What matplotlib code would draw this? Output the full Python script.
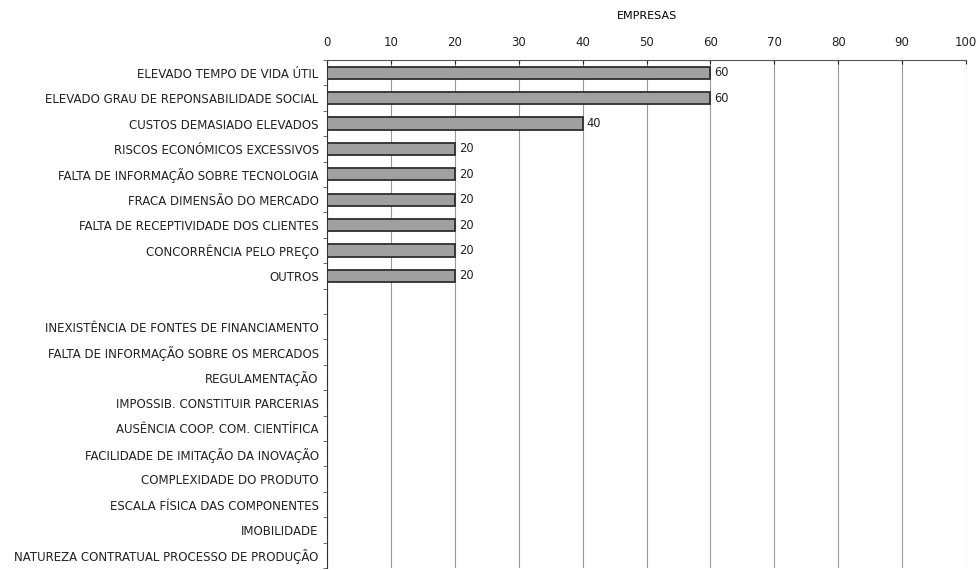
import numpy as np
import matplotlib.pyplot as plt

# obstáculos à inovação (empresas, %)
categories = [
    "ELEVADO TEMPO DE VIDA ÚTIL",
    "ELEVADO GRAU DE REPONSABILIDADE SOCIAL",
    "CUSTOS DEMASIADO ELEVADOS",
    "RISCOS ECONÓMICOS EXCESSIVOS",
    "FALTA DE INFORMAÇÃO SOBRE TECNOLOGIA",
    "FRACA DIMENSÃO DO MERCADO",
    "FALTA DE RECEPTIVIDADE DOS CLIENTES",
    "CONCORRÊNCIA PELO PREÇO",
    "OUTROS",
    "",
    "INEXISTÊNCIA DE FONTES DE FINANCIAMENTO",
    "FALTA DE INFORMAÇÃO SOBRE OS MERCADOS",
    "REGULAMENTAÇÃO",
    "IMPOSSIB. CONSTITUIR PARCERIAS",
    "AUSÊNCIA COOP. COM. CIENTÍFICA",
    "FACILIDADE DE IMITAÇÃO DA INOVAÇÃO",
    "COMPLEXIDADE DO PRODUTO",
    "ESCALA FÍSICA DAS COMPONENTES",
    "IMOBILIDADE",
    "NATUREZA CONTRATUAL PROCESSO DE PRODUÇÃO",
]
values = [60, 60, 40, 20, 20, 20, 20, 20, 20, 0,
          0, 0, 0, 0, 0, 0, 0, 0, 0, 0]
x_ticks = [0, 10, 20, 30, 40, 50, 60, 70, 80, 90, 100]

plt.rcParams["font.family"] = "DejaVu Sans"

fig = plt.figure(figsize=(9.78, 5.70), dpi=100)
ax = fig.add_axes([0.3344, 0.0035, 0.6533, 0.8912])

y = np.arange(len(categories))
ax.barh(y, values, height=0.48, color="#a0a0a0",
        edgecolor="#2e2e2e", linewidth=1.3, zorder=3)
for yi, v in zip(y, values):
    if v > 0:
        ax.text(v + 0.6, yi, str(v), va="center", ha="left",
                fontsize=8.3, color="#222222")

ax.set_xlim(0, 100)
ax.set_ylim(len(categories) - 0.5, -0.5)
ax.set_xticks(x_ticks)
ax.xaxis.tick_top()
ax.xaxis.set_label_position("top")
ax.set_xlabel("EMPRESAS", fontsize=8, labelpad=12)
ax.tick_params(axis="x", labelsize=8.5, length=3, direction="in", pad=8,
               colors="#222222")
ax.set_yticks(y)
ax.set_yticklabels(categories, fontsize=8.5, color="#222222")
ax.set_yticks(np.arange(-0.5, len(categories), 1), minor=True)
ax.tick_params(axis="y", which="major", length=0, pad=6)
ax.tick_params(axis="y", which="minor", length=3, direction="out",
               colors="#555555")

ax.grid(axis="x", color="#999999", linewidth=0.8, zorder=0)
ax.spines["right"].set_visible(False)
ax.spines["bottom"].set_visible(False)
ax.spines["left"].set_color("#333333")
ax.spines["top"].set_color("#555555")

fig.savefig("out.png", dpi=100)
